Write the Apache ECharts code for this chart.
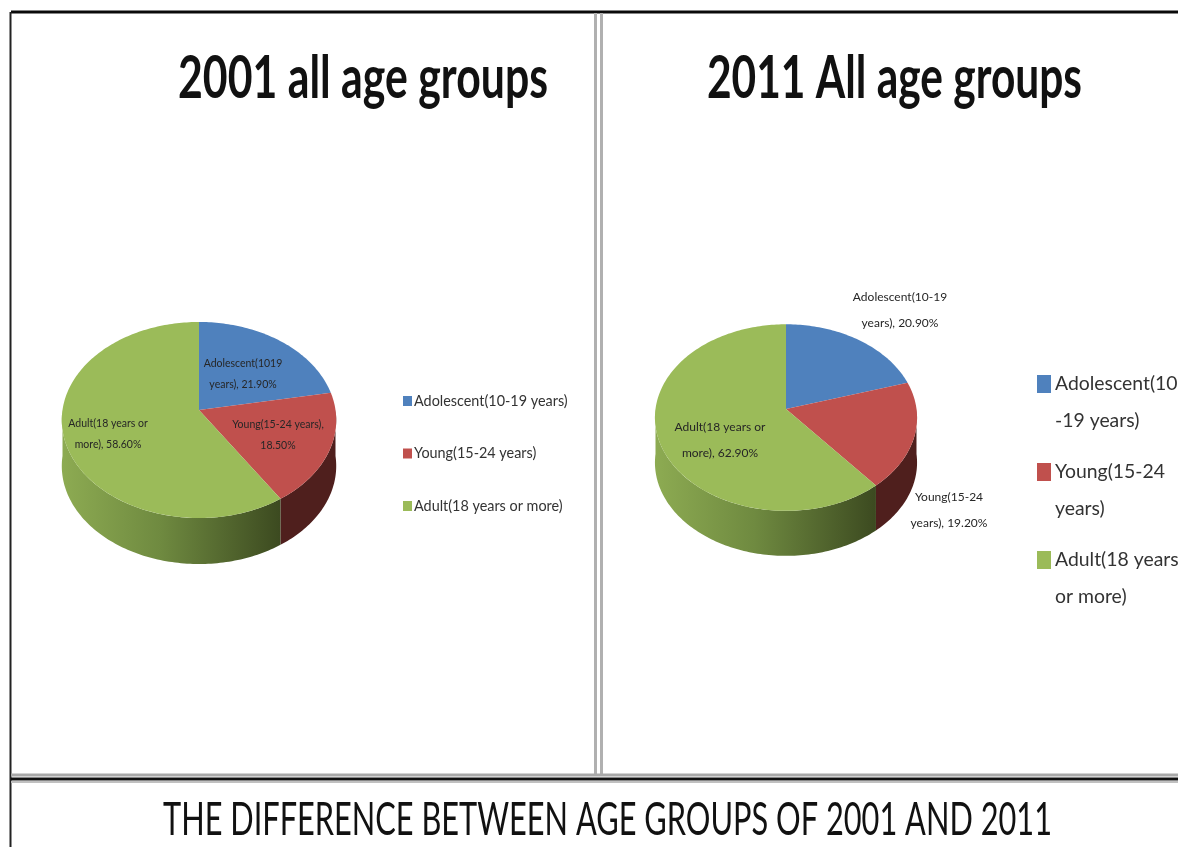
<!DOCTYPE html>
<html><head><meta charset="utf-8">
<style>html,body{margin:0;padding:0;background:#fff}#c{width:1178px;height:847px;filter:blur(0.6px)}</style>
<script src="https://cdn.jsdelivr.net/npm/echarts@6/dist/echarts.min.js"></script>
</head><body><div id="c"></div>
<script>
const categories2001 = ['Adolescent(10-19 years)', 'Young(15-24 years)', 'Adult(18 years or more)'];
const categories2011 = ['Adolescent(10\n-19 years)', 'Young(15-24\nyears)', 'Adult(18 years\nor more)'];
const values2001 = [21.9, 18.5, 58.6];
const values2011 = [20.9, 19.2, 62.9];
const labelNames2001 = ['Adolescent(1019\nyears), ', 'Young(15-24 years),\n', 'Adult(18 years or\nmore), '];
const labelNames2011 = ['Adolescent(10-19\nyears), ', 'Young(15-24\nyears), ', 'Adult(18 years or\nmore), '];
const colors = ['#4f81bd', '#c0504d', '#9bbb59'];
const titles = ['2001 all age groups', '2011 All age groups', 'THE DIFFERENCE BETWEEN AGE GROUPS OF 2001 AND 2011'];

const FONT = 'Lato,"Liberation Sans",sans-serif';
const pie2001 = {cx:199, cy:410, rx:136.5, ry:97, k:0.102, depth:46, lab:[[243,374],[278,435],[108,434]], fs:10.5, lh:21};
const pie2011 = {cx:786, cy:409, rx:130.5, ry:92.5, k:0.092, depth:45, lab:[[900,310],[949,510],[720,440]], fs:12, lh:26};
const walls = ['#4f81bd', '#4f1f1d', null];

function pt(g, a, off) {
  const c = Math.cos(a), s = Math.sin(a), w = 1 / (1 + g.k * c);
  return [g.cx + g.rx * s * w, g.cy - g.ry * c * w + (off || 0)];
}
function arc(g, a0, a1, off) {
  const out = [], n = Math.max(2, Math.ceil((a1 - a0) / 0.02));
  for (let i = 0; i <= n; i++) out.push(pt(g, a0 + (a1 - a0) * i / n, off));
  return out;
}
function sliceSeries(name, i, values, g, labelNames) {
  const total = values.reduce((a, b) => a + b, 0);
  const before = values.slice(0, i).reduce((a, b) => a + b, 0);
  return {
    type: 'custom', name, coordinateSystem: 'none', silent: true, animation: false,
    itemStyle: {color: colors[i]},
    data: [values[i]],
    z: 2,
    renderItem(params, api) {
      const v = api.value(0);
      const a0 = before / total * 2 * Math.PI, a1 = (before + v) / total * 2 * Math.PI;
      const children = [];
      const w0 = Math.max(a0, Math.PI / 2), w1 = Math.min(a1, 3 * Math.PI / 2);
      if (w1 > w0) {
        const fill = i === 2
          ? new echarts.graphic.LinearGradient(0, 0, 1, 0, [
              {offset: 0, color: '#8dab52'}, {offset: 0.45, color: '#6f8a40'}, {offset: 1, color: '#3c4a20'}])
          : walls[i];
        children.push({type: 'polygon', z2: 1,
          shape: {points: arc(g, w0, w1, 0).concat(arc(g, w0, w1, g.depth).reverse())},
          style: {fill}});
      }
      children.push({type: 'polygon', z2: 2,
        shape: {points: [[g.cx, g.cy]].concat(arc(g, a0, a1, 0))},
        style: {fill: colors[i]}});
      children.push({type: 'text', z2: 3, x: g.lab[i][0], y: g.lab[i][1],
        style: {text: labelNames[i] + v.toFixed(2) + '%', fill: '#262626', font: g.fs + 'px ' + FONT,
          align: 'center', verticalAlign: 'middle', lineHeight: g.lh}});
      return {type: 'group', children};
    }
  };
}
const series = [];
categories2001.forEach((n, i) => series.push(sliceSeries(n, i, values2001, pie2001, labelNames2001)));
categories2011.forEach((n, i) => series.push(sliceSeries(n, i, values2011, pie2011, labelNames2011)));

function line(x1, y1, x2, y2, stroke, lineWidth) {
  return {type: 'line', shape: {x1, y1, x2, y2}, style: {stroke, lineWidth}, z: 10, silent: true};
}
const measure = document.createElement('canvas').getContext('2d');
function fitted(text, x, y, width, size, weight) {
  const font = weight + ' ' + size + 'px ' + FONT;
  measure.font = font;
  return {type: 'text', x, y, scaleX: width / measure.measureText(text).width, z: 5, silent: true,
    style: {text, font, fill: '#111', align: 'left', verticalAlign: 'middle'}};
}
const chart = echarts.init(document.getElementById('c'), null, {renderer: 'canvas'});
chart.setOption({
  backgroundColor: '#fff',
  animation: false,
  legend: [
    {data: categories2001, orient: 'vertical', left: 403, top: 393, padding: 0, itemWidth: 9, itemHeight: 10, itemGap: 36.5, icon: 'rect',
     textStyle: {fontFamily: FONT, fontSize: 14.4, color: '#333', lineHeight: 16, padding: [0,0,0,-3]}},
    {data: categories2011, orient: 'vertical', left: 1037, top: 365.5, padding: 0, itemWidth: 14, itemHeight: 74, itemGap: 14,
     icon: 'path://M0,0L0,0ZM0,9.5H14V27.5H0ZM0,74L0,74Z',
     textStyle: {fontFamily: FONT, fontSize: 19.4, color: '#333', lineHeight: 37, padding: [0,0,0,-1]}}
  ],
  series,
  graphic: [
    fitted(titles[0], 178, 79, 370, 60, 'bold'),
    fitted(titles[1], 707, 79, 375, 60, 'bold'),
    fitted(titles[2], 163, 820, 889, 47, 'normal'),
    line(11, 12, 1178, 12, '#0a0a0a', 3),
    line(10.5, 12, 10.5, 847, '#222', 2),
    line(595.5, 13, 595.5, 776, '#b0b0b0', 3),
    line(601.5, 13, 601.5, 776, '#b0b0b0', 3),
    line(11, 775, 1178, 775, '#a8a8a8', 3),
    line(11, 779, 1178, 779, '#111', 3),
    line(11, 782, 1178, 782, '#c0c0c0', 2)
  ]
});
</script></body></html>
